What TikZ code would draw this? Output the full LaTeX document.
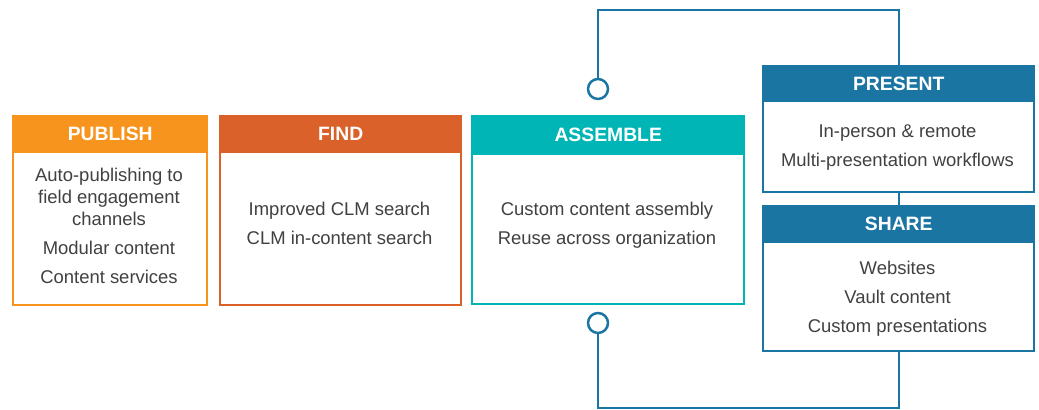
\documentclass[tikz,border=0pt]{standalone}
\usepackage{fontspec}
\setmainfont{Liberation Sans}
\usepackage{tikz}
\usetikzlibrary{calc}
\usetikzlibrary{positioning}

\definecolor{pubOrange}{HTML}{F7941D}
\definecolor{findOrange}{HTML}{DA6129}
\definecolor{asmTeal}{HTML}{00B5B5}
\definecolor{shareBlue}{HTML}{1B75A3}
\definecolor{bodyGray}{HTML}{414042}

\tikzset{
  stagebox/.style={rectangle, draw=#1, line width=1.4pt, fill=white, inner sep=0pt, anchor=north west},
  stagehead/.style={rectangle, draw=#1, fill=#1, line width=1.4pt, inner sep=0pt, anchor=north west, text=white, font=\fontsize{11}{13}\selectfont\bfseries},
  stagetext/.style={align=center, text=bodyGray, font=\fontsize{10.5}{12.5}\selectfont},
  knob/.style={circle, draw=shareBlue, line width=1.4pt, fill=white, minimum size=0.4cm, inner sep=0pt},
  loopline/.style={draw=shareBlue, line width=1.4pt}
}

\begin{document}
\begin{tikzpicture}

\useasboundingbox (0,0) rectangle (20.78,8.2);

% stage boxes
\node at (0.24,5.90) [stagebox=pubOrange, minimum width=3.88cm, minimum height=3.78cm] (publish) {};
\node at (0.24,5.90) [stagehead=pubOrange, minimum width=3.88cm, minimum height=0.72cm] (publishhead) {PUBLISH};
\node at (2.18,3.68) [stagetext] (publishtext)
        {Auto-publishing to\\field engagement\\channels\\[4pt]Modular content\\[4pt]Content services};

\node at (4.38,5.90) [stagebox=findOrange, minimum width=4.82cm, minimum height=3.78cm] (find) {};
\node at (4.38,5.90) [stagehead=findOrange, minimum width=4.82cm, minimum height=0.72cm] (findhead) {FIND};
\node at (6.79,3.74) [stagetext] (findtext) {Improved CLM search\\[4pt]CLM in-content search};

\node at (9.42,5.90) [stagebox=asmTeal, minimum width=5.44cm, minimum height=3.76cm] (assemble) {};
\node at (9.42,5.90) [stagehead=asmTeal, minimum width=5.44cm, minimum height=0.76cm] (assemblehead) {ASSEMBLE};
\node at (12.14,3.69) [stagetext] (assembletext) {Custom content assembly\\[4pt]Reuse across organization};

\node at (15.24,6.90) [stagebox=shareBlue, minimum width=5.42cm, minimum height=2.52cm] (present) {};
\node at (15.24,6.90) [stagehead=shareBlue, minimum width=5.42cm, minimum height=0.70cm] (presenthead) {PRESENT};
\node at (17.95,5.25) [stagetext] (presenttext) {In-person \& remote\\[4pt]Multi-presentation workflows};

\node at (15.24,4.10) [stagebox=shareBlue, minimum width=5.42cm, minimum height=2.90cm] (share) {};
\node at (15.24,4.10) [stagehead=shareBlue, minimum width=5.42cm, minimum height=0.72cm] (sharehead) {SHARE};
\node at (17.95,2.22) [stagetext] (sharetext) {Websites\\[4pt]Vault content\\[4pt]Custom presentations};

% loop with knobs
\node at (11.96,6.42) [knob] (knobtop) {};
\node at (11.96,1.74) [knob] (knobbot) {};
\coordinate (looptop) at (11.96,8.00);
\coordinate (loopbot) at (11.96,0.04);

\draw[loopline] (knobtop.north) -- (looptop) -| (present.north);
\draw[loopline] (present.south) -- (share.north);
\draw[loopline] (knobbot.south) -- (loopbot) -| (share.south);

\end{tikzpicture}
\end{document}
